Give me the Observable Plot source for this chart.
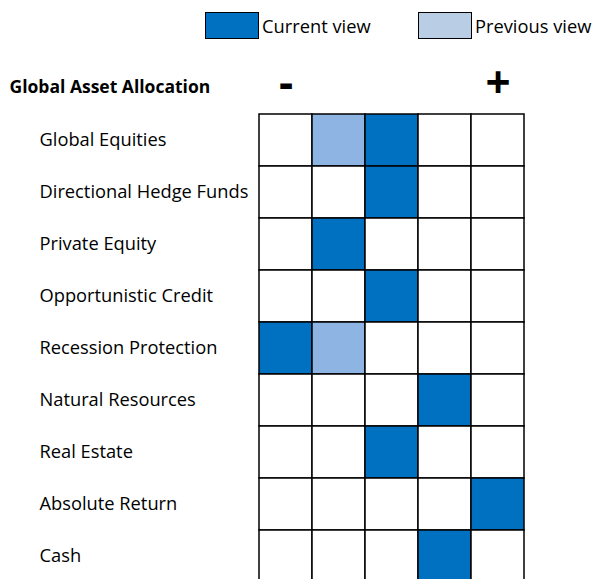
<!DOCTYPE html>
<html>
<head>
<meta charset="utf-8">
<script src="https://cdn.jsdelivr.net/npm/d3@7"></script>
<script src="https://cdn.jsdelivr.net/npm/@observablehq/plot@0.6"></script>
<style>
  body { margin: 0; background: #fff; font-family: "Open Sans", sans-serif; }
  #wrap { width: 595px; }
  #legend { position: relative; height: 50px; width: 595px; }
  .sw { position: absolute; top: 12px; width: 54px; height: 27px; box-sizing: border-box; border: 1.5px solid #000; }
  .lt { position: absolute; top: 14px; font-size: 18.3px; line-height: 24px; color: #000; }
</style>
</head>
<body>
<div id="wrap">
  <div id="legend">
    <div class="sw" style="left:205px;background:#0070C0"></div>
    <div class="lt" style="left:262px">Current view</div>
    <div class="sw" style="left:418px;background:#B9CDE5"></div>
    <div class="lt" style="left:475px">Previous view</div>
  </div>
  <div id="chart"></div>
</div>
<script>
const title = "Global Asset Allocation";
const rows = ["Global Equities","Directional Hedge Funds","Private Equity","Opportunistic Credit","Recession Protection","Natural Resources","Real Estate","Absolute Return","Cash"];
const levels = [0,1,2,3,4];
const levelLabels = [{level:0, label:"-"},{level:4, label:"+"}];
const currentView = [2,2,1,2,0,3,2,4,3];
const previousView = [1,null,null,null,1,null,null,null,null];

const cells = [];
rows.forEach((r, i) => {
  levels.forEach(l => {
    let state = "none";
    if (currentView[i] === l) state = "current";
    else if (previousView[i] === l) state = "previous";
    cells.push({row: r, level: l, state});
  });
});

const colors = {none: "#ffffff", current: "#0070C0", previous: "#8EB4E3"};

const chart = Plot.plot({
  width: 595,
  height: 529,
  marginLeft: 258,
  marginRight: 70,
  marginTop: 63,
  marginBottom: -4,
  x: {type: "band", domain: levels, padding: 0, axis: null},
  y: {type: "band", domain: rows, padding: 0, axis: null},
  style: {fontFamily: "'Open Sans', sans-serif", background: "#fff"},
  marks: [
    Plot.cell(cells, {x: "level", y: "row", fill: d => colors[d.state], stroke: "#000", strokeWidth: 1.5}),
    Plot.text(rows, {y: d => d, frameAnchor: "left", textAnchor: "start", dx: -219, fontSize: 18.3, fill: "#000"}),
    Plot.text([title], {frameAnchor: "top-left", lineAnchor: "middle", textAnchor: "start", dx: -249, dy: -26, fontSize: 17.5, fontWeight: "bold", fill: "#000"}),
    Plot.text(levelLabels, {x: "level", text: "label", frameAnchor: "top", lineAnchor: "middle", dy: -30, fontSize: 44, fontWeight: "bold", fill: "#000"})
  ]
});
document.getElementById("chart").appendChild(chart);
</script>
</body>
</html>
